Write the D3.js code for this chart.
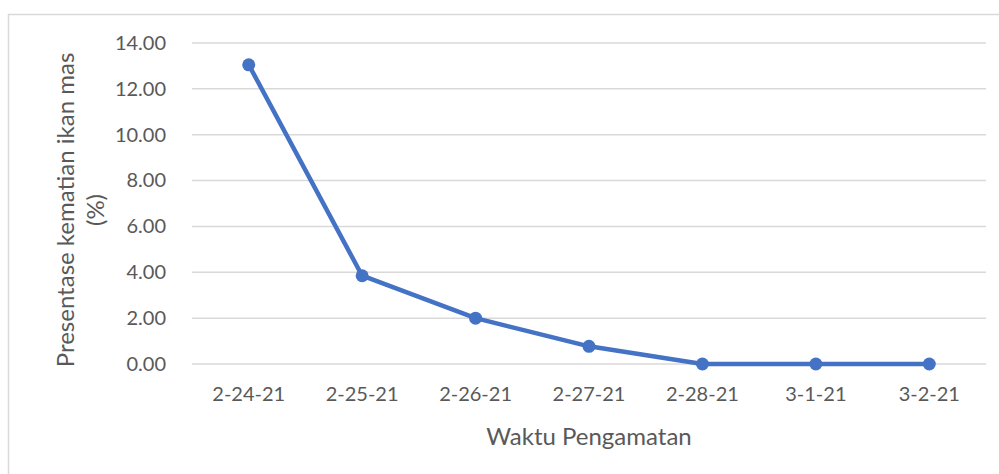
<!DOCTYPE html>
<meta charset="utf-8">
<body style="margin:0">
<script src="https://cdn.jsdelivr.net/npm/d3@7"></script>
<div id="chart"></div>
<script>
  const categories = ["2-24-21", "2-25-21", "2-26-21", "2-27-21", "2-28-21", "3-1-21", "3-2-21"];
  const values = [13.05, 3.85, 2.0, 0.77, 0, 0, 0];
  const yTicks = [0, 2, 4, 6, 8, 10, 12, 14];

  const width = 999, height = 474;
  const plot = {left: 192, right: 986, top: 43, bottom: 364};
  const font = "Lato, 'Open Sans', sans-serif";
  const txt = "#595959";

  const svg = d3.select("#chart").append("svg")
    .attr("width", width).attr("height", height)
    .style("font-family", font);

  svg.append("rect").attr("width", width).attr("height", height).attr("fill", "#fff");

  // chart frame (cut off on the right and bottom)
  svg.append("rect")
    .attr("x", 8.5).attr("y", 14.5)
    .attr("width", 1100).attr("height", 600)
    .attr("fill", "none").attr("stroke", "#d9d9d9").attr("stroke-width", 1.5);

  const x = d3.scaleBand().domain(categories).range([plot.left, plot.right]);
  const y = d3.scaleLinear().domain([0, 14]).range([plot.bottom, plot.top]);

  // gridlines
  svg.append("g").selectAll("line").data(yTicks).join("line")
    .attr("x1", plot.left).attr("x2", plot.right)
    .attr("y1", d => y(d)).attr("y2", d => y(d))
    .attr("stroke", "#d9d9d9").attr("stroke-width", 1.5);

  // y axis labels
  const yAxis = svg.append("g")
    .attr("transform", `translate(${plot.left - 23},0)`)
    .call(d3.axisLeft(y).tickValues(yTicks).tickFormat(d3.format(".2f")).tickSize(0));
  yAxis.select(".domain").remove();
  yAxis.selectAll("text").attr("fill", txt).attr("font-size", 20).attr("font-family", font);

  // x axis labels
  const xAxis = svg.append("g")
    .attr("transform", `translate(0,${plot.bottom + 20})`)
    .call(d3.axisBottom(x).tickSize(0));
  xAxis.select(".domain").remove();
  xAxis.selectAll("text").attr("fill", txt).attr("font-size", 20).attr("font-family", font);

  // line
  const line = d3.line()
    .x((d, i) => x(categories[i]) + x.bandwidth() / 2)
    .y(d => y(d));

  svg.append("path").datum(values)
    .attr("d", line)
    .attr("fill", "none").attr("stroke", "#4472c4")
    .attr("stroke-width", 4.5).attr("stroke-linejoin", "round");

  svg.append("g").selectAll("circle").data(values).join("circle")
    .attr("cx", (d, i) => x(categories[i]) + x.bandwidth() / 2)
    .attr("cy", d => y(d))
    .attr("r", 6.5)
    .attr("fill", "#4472c4");

  // axis titles
  svg.append("text")
    .attr("x", (plot.left + plot.right) / 2).attr("y", 445)
    .attr("text-anchor", "middle").attr("fill", txt).attr("font-size", 24)
    .text("Waktu Pengamatan");

  const yt = svg.append("text")
    .attr("transform", "translate(74,210) rotate(-90)")
    .attr("text-anchor", "middle").attr("fill", txt).attr("font-size", 24);
  yt.append("tspan").attr("x", 0).attr("dy", 0).text("Presentase kematian ikan mas");
  yt.append("tspan").attr("x", 0).attr("dy", 30).text("(%)");
</script>
